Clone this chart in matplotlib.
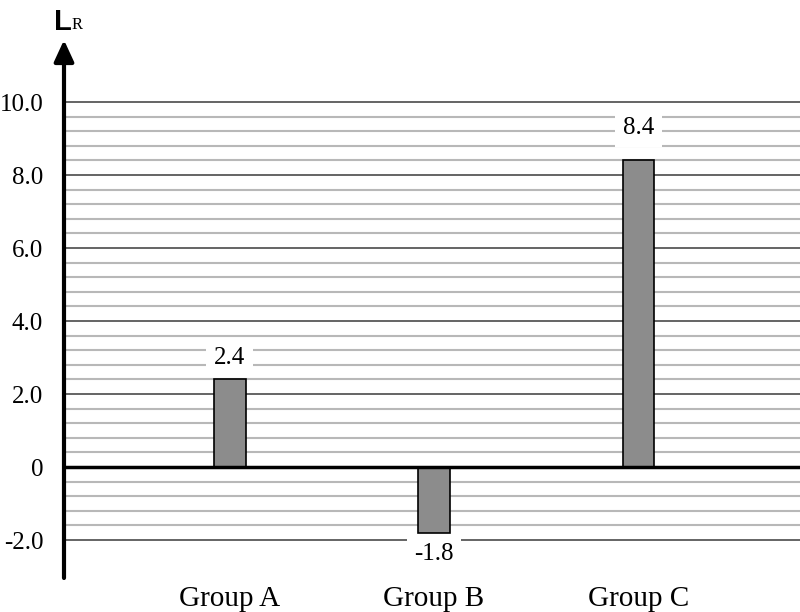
import matplotlib
matplotlib.use("Agg")
import matplotlib.pyplot as plt
import numpy as np

categories = ["Group A", "Group B", "Group C"]
values = [2.4, -1.8, 8.4]
value_labels = ["2.4", "-1.8", "8.4"]
ytick_values = [-2, 0, 2, 4, 6, 8, 10]
ytick_labels = ["-2.0", "0", "2.0", "4.0", "6.0", "8.0", "10.0"]

label_offsets = [21, -21, 32]  # pixels from bar end

plt.rcParams['font.family'] = ['Liberation Serif', 'DejaVu Serif']

fig = plt.figure(figsize=(8, 6.12), dpi=100)
ax = fig.add_axes([0.08, 1 - 578 / 612, 0.92, (578 - 40) / 612])

x = np.arange(len(categories))
ax.set_xlim(-0.81, 2.79)
ax.set_ylim(-3.04, 11.70)

# grid lines
for v in np.arange(-2.0, 10.01, 0.4):
    if abs(v) < 1e-6:
        continue
    major = abs(v / 2 - round(v / 2)) < 1e-6
    ax.axhline(v, color="#3a3a3a" if major else "#b8b8b8",
               lw=1.1 if major else 1.5, zorder=1)
ax.axhline(0, color="black", lw=2.5, zorder=4)

ax.bar(x, values, width=0.156, color="#8c8c8c", edgecolor="black", lw=1.2, zorder=3)

for xi, v, lab, off in zip(x, values, value_labels, label_offsets):
    ax.annotate(lab, xy=(xi, v), xytext=(0, off * 0.72), textcoords="offset points",
                ha="center", va="center", fontsize=18, zorder=5,
                bbox=dict(boxstyle="square,pad=0.3", fc="white", ec="none"))

for s in ["top", "right", "bottom", "left"]:
    ax.spines[s].set_visible(False)

ax.annotate("", xy=(0, 1.0), xytext=(0, 0), xycoords="axes fraction",
            arrowprops=dict(arrowstyle="-|>,head_length=1.3,head_width=0.6",
                            lw=3, color="black", shrinkA=0, shrinkB=0), zorder=6)

ax.set_yticks(ytick_values)
ax.set_yticklabels(ytick_labels, fontsize=18)
ax.set_xticks(x)
ax.set_xticklabels(categories, fontsize=21)
ax.tick_params(axis="y", length=0, pad=15)
ax.tick_params(axis="x", length=0, pad=6)

fig.text(0.067, 1 - 22 / 612, "L", fontsize=21, fontweight="bold",
         family=["Liberation Sans", "DejaVu Sans"], ha="left", va="center")
fig.text(0.0895, 1 - 25 / 612, "R", fontsize=12, ha="left", va="center")

fig.savefig("out.png", dpi=100)
